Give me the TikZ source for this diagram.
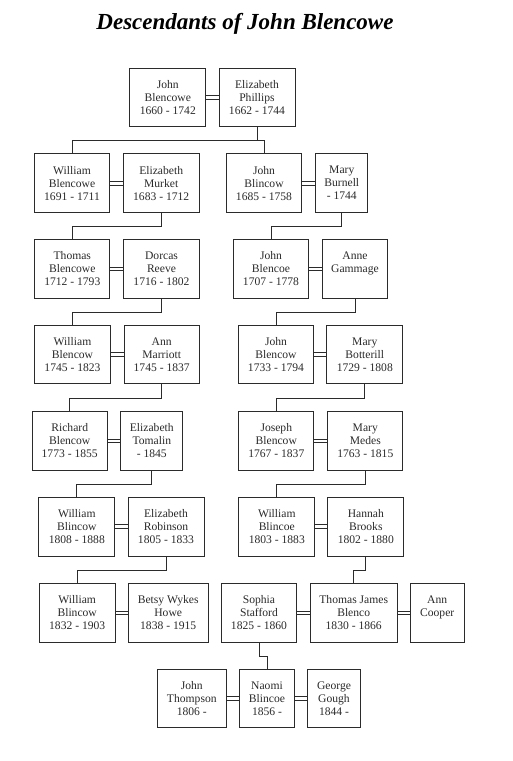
\documentclass[tikz,border=0pt]{standalone}
\usepackage{fontspec}
\setmainfont{Liberation Serif}
\definecolor{ink}{HTML}{2B2B2B}
\newcommand\wedline[2]{\draw[marr] ([yshift=1.9pt]#1.east) -- ([yshift=1.9pt]#2.west) ([yshift=-1.9pt]#1.east) -- ([yshift=-1.9pt]#2.west);}
\begin{document}
\begin{tikzpicture}[x=1pt,y=-1pt,
  person/.style={draw=ink, line width=1pt, text=ink, minimum height=58.5pt, inner sep=0pt, align=center, font=\fontsize{11.6}{13}\selectfont},
  marr/.style={draw=ink, line width=0.9pt},
  desc/.style={draw=ink, line width=1pt}]
\useasboundingbox[fill=white] (0,0) rectangle (512,761);
\node[anchor=base, text=black, font=\fontsize{23}{26}\selectfont\bfseries\itshape] (title) at (245,29.5) {Descendants of John Blencowe};
% Row 1
\node[person, minimum width=75.7pt] (jb) at (167.8,97.25) {John\\Blencowe\\1660 - 1742};
\node[person, minimum width=76pt] (ep) at (257,97.25) {Elizabeth\\Phillips\\1662 - 1744};
% Row 2
\node[person, minimum width=75.4pt] (wb) at (72,183.1) {William\\Blencowe\\1691 - 1711};
\node[person, minimum width=75.7pt] (em) at (161.2,183.1) {Elizabeth\\Murket\\1683 - 1712};
\node[person, minimum width=75.4pt] (jbl) at (264,183.1) {John\\Blincow\\1685 - 1758};
\node[person, minimum width=52.3pt] (mb) at (341.8,183.1) {Mary\\Burnell\\- 1744};
% Row 3
\node[person, minimum width=75.3pt] (tb) at (72.3,269) {Thomas\\Blencowe\\1712 - 1793};
\node[person, minimum width=75.6pt] (dr) at (161.5,269) {Dorcas\\Reeve\\1716 - 1802};
\node[person, minimum width=75.4pt] (jbc) at (271,269) {John\\Blencoe\\1707 - 1778};
\node[person, minimum width=65.4pt] (ag) at (355,269) {Anne\\Gammage\\\mbox{}};
% Row 4
\node[person, minimum width=75.6pt] (wbw) at (72.5,354.7) {William\\Blencow\\1745 - 1823};
\node[person, minimum width=75.3pt] (am) at (161.7,354.7) {Ann\\Marriott\\1745 - 1837};
\node[person, minimum width=75.4pt] (jbw) at (276,354.7) {John\\Blencow\\1733 - 1794};
\node[person, minimum width=75.7pt] (mbo) at (364.8,354.7) {Mary\\Botterill\\1729 - 1808};
% Row 5
\node[person, minimum width=75.3pt] (rb) at (69.7,440.9) {Richard\\Blencow\\1773 - 1855};
\node[person, minimum width=62.3pt] (et) at (151.8,440.9) {Elizabeth\\Tomalin\\- 1845};
\node[person, minimum width=75.3pt] (job) at (276.3,440.9) {Joseph\\Blencow\\1767 - 1837};
\node[person, minimum width=75.3pt] (mm) at (365.3,440.9) {Mary\\Medes\\1763 - 1815};
% Row 6
\node[person, minimum width=75.7pt] (wbi) at (76.8,526.8) {William\\Blincow\\1808 - 1888};
\node[person, minimum width=76pt] (er) at (166,526.8) {Elizabeth\\Robinson\\1805 - 1833};
\node[person, minimum width=75.7pt] (wbc) at (276.8,526.8) {William\\Blincoe\\1803 - 1883};
\node[person, minimum width=75.7pt] (hb) at (365.8,526.8) {Hannah\\Brooks\\1802 - 1880};
% Row 7
\node[person, minimum width=75.7pt] (wbj) at (77.2,613) {William\\Blincow\\1832 - 1903};
\node[person, minimum width=79.7pt] (bwh) at (168.2,613) {Betsy Wykes\\Howe\\1838 - 1915};
\node[person, minimum width=75.4pt] (ss) at (259,613) {Sophia\\Stafford\\1825 - 1860};
\node[person, minimum width=86.7pt] (tjb) at (353.7,613) {Thomas James\\Blenco\\1830 - 1866};
\node[person, minimum width=54.3pt] (ac) at (437.2,613) {Ann\\Cooper\\\mbox{}};
% Row 8
\node[person, minimum width=69pt] (jt) at (191.8,698.6) {John\\Thompson\\1806 -};
\node[person, minimum width=54.6pt] (nb) at (267,698.6) {Naomi\\Blincoe\\1856 -};
\node[person, minimum width=53.4pt] (gg) at (334,698.6) {George\\Gough\\1844 -};
% marriages
\wedline{jb}{ep}
\wedline{wb}{em}
\wedline{jbl}{mb}
\wedline{tb}{dr}
\wedline{jbc}{ag}
\wedline{wbw}{am}
\wedline{jbw}{mbo}
\wedline{rb}{et}
\wedline{job}{mm}
\wedline{wbi}{er}
\wedline{wbc}{hb}
\wedline{wbj}{bwh}
\wedline{ss}{tjb}
\wedline{tjb}{ac}
\wedline{jt}{nb}
\wedline{nb}{gg}
% descent
\draw[desc] (ep.south) -- ++(0,13) coordinate (j1);
\draw[desc] (j1) -| (wb.north);
\draw[desc] (j1) -| (jbl.north);
\draw[desc] (em.south) -- ++(0,13.8) -| (tb.north);
\draw[desc] (mb.south) -- ++(0,13.8) -| (jbc.north);
\draw[desc] (dr.south) -- ++(0,13.8) -| (wbw.north);
\draw[desc] (ag.south) -- ++(0,13.8) -| (jbw.north);
\draw[desc] (am.south) -- ++(0,13.8) -| (rb.north);
\draw[desc] (mbo.south) -- ++(0,13.8) -| (job.north);
\draw[desc] (et.south) -- ++(0,13.5) -| (wbi.north);
\draw[desc] (mm.south) -- ++(0,13.5) -| (wbc.north);
\draw[desc] (er.south) -- ++(0,14) -| (wbj.north);
\draw[desc] (hb.south) -- ++(0,14) -| (tjb.north);
\draw[desc] (ss.south) -- ++(0,13.4) -| (nb.north);
\end{tikzpicture}
\end{document}
